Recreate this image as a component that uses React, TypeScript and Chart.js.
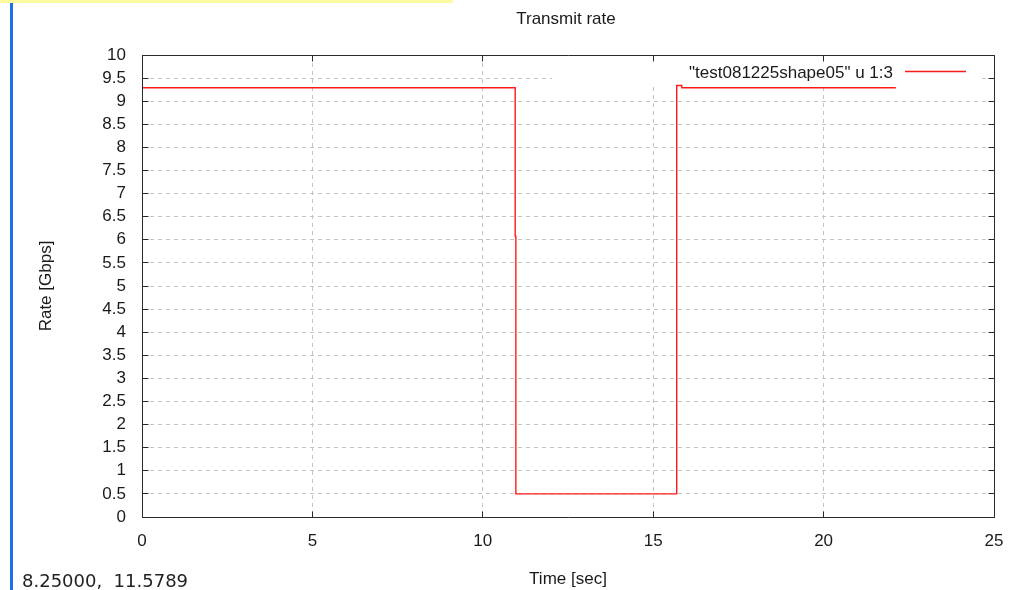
import { useEffect, useRef } from "react";
import { Chart, registerables } from "chart.js";

Chart.register(...registerables);

// Step samples: each point starts a new level that holds until the next point.
const timeSec = [0, 10.95, 10.97, 15.69, 15.84, 22.12];
const rateGbps = [9.29, 6.08, 0.5, 9.34, 9.29, 9.29];

const xMin = 0;
const xMax = 25;
const xStep = 5;
const yMin = 0;
const yMax = 10;
const yStep = 0.5;

const chartTitle = "Transmit rate";
const xTitle = "Time [sec]";
const yTitle = "Rate [Gbps]";
const seriesLabel = '"test081225shape05" u 1:3';
const cursorReadout = "8.25000,  11.5789";

const FONT = "'Liberation Sans', Arial, sans-serif";
const TEXT = "#1a1a1a";
const FRAME = "#2a2a2a";
const GRID = "#c4c4c4";
const LINE = "#ff1a1a";

// same half-pixel snapping Chart.js uses for 1px grid lines
const snap = (p: number) => Math.round(p - 0.5) + 0.5;

// Frame, inward tick marks, opaque key box, title and window decorations.
const gnuplotLook = {
  id: "gnuplotLook",
  beforeDatasetsDraw(chart: any) {
    const { ctx, chartArea: a } = chart;
    ctx.save();
    ctx.fillStyle = "#ffffff";
    ctx.fillRect(a.right - 442, a.top + 3, 426, 28);
    ctx.restore();
  },
  afterDatasetsDraw(chart: any) {
    const { ctx, chartArea: a } = chart;
    const xs = chart.scales.x;
    const ys = chart.scales.y;
    const L = snap(a.left);
    const R = snap(a.right);
    const T = snap(a.top);
    const B = snap(a.bottom);
    const tick = 6;

    ctx.save();
    ctx.strokeStyle = FRAME;
    ctx.lineWidth = 1;
    ctx.beginPath();
    ctx.rect(L, T, R - L, B - T);
    ys.ticks.forEach((t: any) => {
      const y = snap(ys.getPixelForValue(t.value));
      ctx.moveTo(L, y);
      ctx.lineTo(L + tick, y);
      ctx.moveTo(R, y);
      ctx.lineTo(R - tick, y);
    });
    xs.ticks.forEach((t: any) => {
      const x = snap(xs.getPixelForValue(t.value));
      ctx.moveTo(x, B);
      ctx.lineTo(x, B - tick);
      ctx.moveTo(x, T);
      ctx.lineTo(x, T + tick);
    });
    ctx.stroke();

    // key: label then line sample, top right inside the plot
    const ds = chart.data.datasets[0];
    ctx.font = `17px ${FONT}`;
    ctx.fillStyle = TEXT;
    ctx.textAlign = "right";
    ctx.textBaseline = "middle";
    ctx.fillText(ds.label, a.right - 101, a.top + 18);
    ctx.strokeStyle = ds.borderColor;
    ctx.lineWidth = ds.borderWidth;
    ctx.beginPath();
    ctx.moveTo(a.right - 89, a.top + 16.5);
    ctx.lineTo(a.right - 28, a.top + 16.5);
    ctx.stroke();
    ctx.restore();
  },
  afterDraw(chart: any) {
    const { ctx, chartArea: a } = chart;
    ctx.save();
    ctx.font = `17px ${FONT}`;
    ctx.fillStyle = TEXT;
    ctx.textAlign = "center";
    ctx.textBaseline = "middle";
    ctx.fillText(chartTitle, (a.left + a.right) / 2 - 2, 19);

    ctx.fillStyle = "#fbfb9e";
    ctx.fillRect(0, 0, 453, 3);
    ctx.fillStyle = "#1f6fe6";
    ctx.fillRect(10, 3, 3, chart.height - 3);

    ctx.font = "18px 'DejaVu Sans', sans-serif";
    ctx.fillStyle = "#222222";
    ctx.textAlign = "left";
    ctx.textBaseline = "alphabetic";
    ctx.fillText(cursorReadout, 22, 587);
    ctx.restore();
  },
};

export default function App() {
  const canvasRef = useRef<HTMLCanvasElement | null>(null);

  useEffect(() => {
    if (!canvasRef.current) return;
    const points = timeSec.map((t, i) => ({ x: t, y: rateGbps[i] }));
    const chart = new Chart(canvasRef.current, {
      type: "line",
      data: {
        datasets: [
          {
            label: seriesLabel,
            data: points,
            borderColor: LINE,
            backgroundColor: LINE,
            borderWidth: 1.4,
            pointRadius: 0,
            stepped: "before",
            fill: false,
          },
        ],
      },
      options: {
        animation: false,
        responsive: false,
        devicePixelRatio: 1,
        layout: { padding: { left: 0, top: 55, right: 25, bottom: 0 } },
        plugins: {
          legend: { display: false },
          title: { display: false },
          tooltip: { enabled: false },
        },
        scales: {
          x: {
            type: "linear",
            min: xMin,
            max: xMax,
            grid: { color: GRID, lineWidth: 1, drawTicks: false },
            border: { display: false, dash: [4, 4] },
            ticks: {
              stepSize: xStep,
              autoSkip: false,
              padding: 14,
              color: TEXT,
              font: { family: FONT, size: 17 },
              maxRotation: 0,
            },
            title: {
              display: true,
              text: xTitle,
              color: TEXT,
              font: { family: FONT, size: 17 },
              padding: { top: 0, bottom: 0 },
            },
            afterFit: (s: any) => {
              s.height = 73;
              s.paddingLeft = 0;
              s.paddingRight = 0;
              s.paddingTop = 0;
              s.paddingBottom = 0;
            },
          },
          y: {
            type: "linear",
            min: yMin,
            max: yMax,
            grid: { color: GRID, lineWidth: 1, drawTicks: false },
            border: { display: false, dash: [4, 4] },
            ticks: {
              stepSize: yStep,
              autoSkip: false,
              padding: 16,
              color: TEXT,
              font: { family: FONT, size: 17 },
              callback: (v: any) => String(Math.round(Number(v) * 10) / 10),
            },
            title: {
              display: true,
              text: yTitle,
              color: TEXT,
              font: { family: FONT, size: 17 },
              padding: { top: 36, bottom: 0 },
            },
            afterFit: (s: any) => {
              s.width = 142;
              s.paddingLeft = 0;
              s.paddingRight = 0;
              s.paddingTop = 0;
              s.paddingBottom = 0;
            },
          },
        },
      },
      plugins: [gnuplotLook],
    });
    return () => chart.destroy();
  }, []);

  return (
    <div style={{ position: "fixed", left: 0, top: 0, width: 1019, height: 590, background: "#fff" }}>
      <canvas ref={canvasRef} width={1019} height={590} style={{ display: "block" }} />
    </div>
  );
}
